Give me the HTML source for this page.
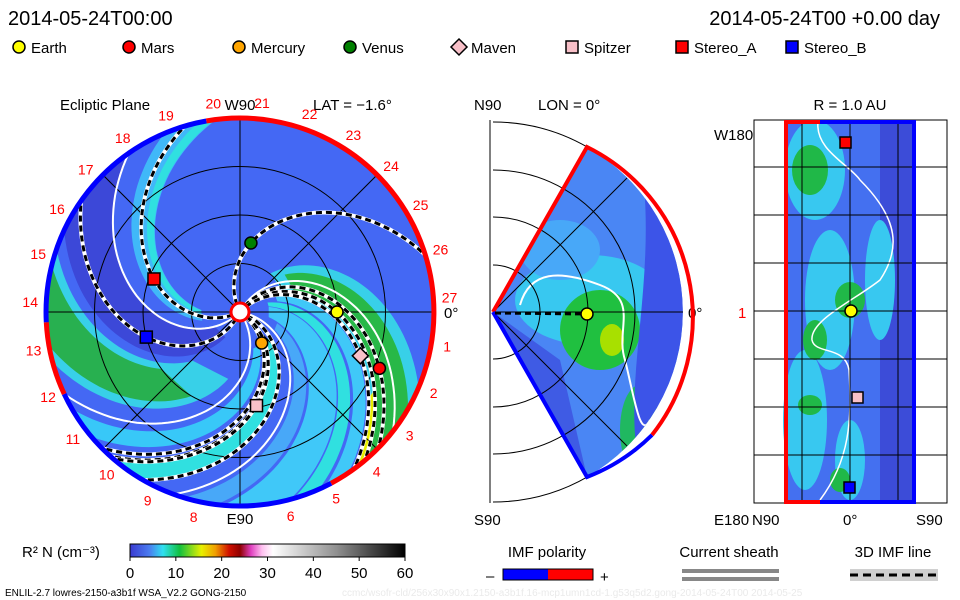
<!DOCTYPE html>
<html><head><meta charset="utf-8"><style>
html,body{margin:0;padding:0;background:#fff;}
svg{display:block;font-family:"Liberation Sans",sans-serif;}
</style></head><body>
<svg id="s" width="960" height="600" viewBox="0 0 960 600">
<defs>
<clipPath id="cc"><circle cx="240" cy="312" r="194"/></clipPath>
<clipPath id="wc"><path d="M493,312 L587,147 A190,190 0 0 1 587,477 Z"/></clipPath>
<linearGradient id="cb" x1="0" x2="1" y1="0" y2="0">
<stop offset="0" stop-color="#3a3ad0"/><stop offset="0.07" stop-color="#4a7cf0"/><stop offset="0.12" stop-color="#30e0f0"/>
<stop offset="0.18" stop-color="#10c040"/><stop offset="0.26" stop-color="#e8f000"/><stop offset="0.31" stop-color="#f0a000"/>
<stop offset="0.36" stop-color="#d01000"/><stop offset="0.4" stop-color="#900000"/><stop offset="0.44" stop-color="#e040c0"/>
<stop offset="0.48" stop-color="#ffc0f0"/><stop offset="0.52" stop-color="#ffffff"/><stop offset="0.75" stop-color="#909090"/>
<stop offset="1" stop-color="#000000"/></linearGradient>
</defs>
<text x="8" y="25" font-size="20">2014-05-24T00:00</text>
<text x="940" y="25" font-size="20" text-anchor="end">2014-05-24T00 +0.00 day</text>
<g id="legend"></g>

<g>
<text x="60" y="110" font-size="15">Ecliptic Plane</text>
<text x="240" y="110" font-size="15" text-anchor="middle">W90</text>
<text x="313" y="110" font-size="15">LAT = −1.6°</text>
<text x="240" y="524" font-size="15" text-anchor="middle">E90</text>
<text x="444" y="318" font-size="15">0°</text>
<circle cx="240" cy="312" r="194" fill="#4468f4"/>
<g id="bands" clip-path="url(#cc)"></g>
<g id="grid" clip-path="url(#cc)" stroke="#000" stroke-width="1" fill="none"></g>
<g id="flines" clip-path="url(#cc)"></g>
<path d="M206.3,121 A194,194 0 0 1 331.1,483.3" fill="none" stroke="#f00" stroke-width="5"/>
<path d="M331.1,483.3 A194,194 0 0 1 64.2,394" fill="none" stroke="#00f" stroke-width="5"/>
<path d="M64.2,394 A194,194 0 0 1 46.3,322.2" fill="none" stroke="#f00" stroke-width="5"/>
<path d="M46.3,322.2 A194,194 0 0 1 206.3,121" fill="none" stroke="#00f" stroke-width="5"/>
<circle cx="240" cy="312" r="9" fill="#fff" stroke="#f00" stroke-width="3"/>
<g id="lonlabels" fill="#f00" font-size="14"></g>
<g id="planets"></g>
</g>

<g>
<text x="474" y="110" font-size="15">N90</text>
<text x="538" y="110" font-size="15">LON = 0°</text>
<text x="474" y="525" font-size="15">S90</text>
<text x="688" y="318" font-size="15">0°</text>
<path d="M490,120 V503" stroke="#000"/>
<g id="merArcs" stroke="#000" fill="none"></g>
<path d="M493,312 L587,147 A190,190 0 0 1 587,477 Z" fill="#4a86f4"/>
<g clip-path="url(#wc)">
<ellipse cx="590" cy="300" rx="75" ry="45" fill="#38c8f0"/>
<ellipse cx="600" cy="330" rx="40" ry="40" fill="#20c040"/>
<ellipse cx="612" cy="340" rx="12" ry="16" fill="#a8e000"/>
<ellipse cx="640" cy="430" rx="20" ry="45" fill="#20b860"/>
<ellipse cx="560" cy="250" rx="40" ry="30" fill="#48a8f8"/>
<path d="M660,150 A190,190 0 0 1 683,320 L683,470 L640,470 C620,380 660,280 640,150Z" fill="#3c54e8"/>
<path d="M493,312 L560,360 L587,477 L520,400Z" fill="#3c50e0" opacity="0.8"/>
<path d="M520,305 C530,270 560,270 600,285 C640,300 615,330 625,360 C635,400 640,440 650,420" stroke="#fff" stroke-width="2" fill="none"/>
</g>
<g id="merGrid" stroke="#000" fill="none"></g>
<path d="M493,312 L587,147 A190,190 0 0 1 652,435" fill="none" stroke="#f00" stroke-width="4"/>
<path d="M652,435 A190,190 0 0 1 587,477 L493,312" fill="none" stroke="#00f" stroke-width="4"/>
<path d="M495,313 L587,314" stroke="#000" stroke-width="3" stroke-dasharray="6,4"/>
<circle cx="587" cy="314" r="6" fill="#ff0" stroke="#000" stroke-width="1.5"/>
</g>

<g>
<text x="850" y="110" font-size="15" text-anchor="middle">R = 1.0 AU</text>
<text x="714" y="140" font-size="15">W180</text>
<text x="714" y="525" font-size="15">E180</text>
<text x="752" y="525" font-size="15">N90</text>
<text x="843" y="525" font-size="15">0°</text>
<text x="916" y="525" font-size="15">S90</text>
<text x="738" y="318" font-size="15" fill="#f00">1</text>
<rect x="754" y="120" width="193" height="383" fill="#fff" stroke="#000"/>
<rect x="786" y="122" width="128" height="380" fill="#4470f0"/>
<rect x="880" y="122" width="34" height="380" fill="#3c4cd8"/>
<g fill="#38c8f0">
<ellipse cx="815" cy="170" rx="30" ry="50"/><ellipse cx="830" cy="300" rx="25" ry="70"/><ellipse cx="805" cy="420" rx="22" ry="70"/>
<ellipse cx="880" cy="280" rx="15" ry="60"/><ellipse cx="850" cy="460" rx="15" ry="40"/></g>
<g fill="#20b848">
<ellipse cx="810" cy="170" rx="18" ry="25"/><ellipse cx="815" cy="340" rx="12" ry="20"/><ellipse cx="850" cy="300" rx="15" ry="18"/>
<ellipse cx="810" cy="405" rx="12" ry="10"/><ellipse cx="840" cy="480" rx="10" ry="12"/></g>
<path d="M818,122 C815,150 850,165 860,180 C900,220 900,250 880,280 C855,300 810,320 812,340 C815,355 845,345 849,370 C852,420 850,460 820,500" stroke="#fff" stroke-width="1.5" fill="none"/>
<g stroke="#000" fill="none">
<path d="M754,167H947M754,215H947M754,263H947M754,311H947M754,359H947M754,407H947M754,455H947"/>
<path d="M802,120V503M850,120V503M898,120V503"/></g>
<path d="M786,120V502H820" fill="none" stroke="#f00" stroke-width="4"/>
<path d="M786,122H820" stroke="#f00" stroke-width="4"/>
<path d="M820,122H914V502H820" fill="none" stroke="#00f" stroke-width="4"/>
<rect x="840" y="137" width="11" height="11" fill="#f00" stroke="#000" stroke-width="1.5"/>
<circle cx="851" cy="311" r="6" fill="#ff0" stroke="#000" stroke-width="1.5"/>
<rect x="852" y="392" width="11" height="11" fill="#f8c0c8" stroke="#000" stroke-width="1.5"/>
<rect x="844" y="482" width="11" height="11" fill="#00f" stroke="#000" stroke-width="1.5"/>
</g>

<g>
<text x="22" y="557" font-size="15">R² N (cm⁻³)</text>
<rect x="130" y="544" width="275" height="13" fill="url(#cb)" stroke="#000"/>
<g id="cbticks" font-size="15" text-anchor="middle"></g>
</g>
<g>
<text x="547" y="557" font-size="15" text-anchor="middle">IMF polarity</text>
<text x="486" y="581" font-size="15">–</text>
<rect x="503" y="569" width="45" height="11" fill="#00f"/><rect x="548" y="569" width="45" height="11" fill="#f00"/>
<rect x="503" y="569" width="90" height="11" fill="none" stroke="#000"/>
<text x="600" y="582" font-size="15">+</text>
</g>
<g>
<text x="729" y="557" font-size="15" text-anchor="middle">Current sheath</text>
<rect x="682" y="569" width="97" height="4" fill="#888"/><rect x="682" y="577" width="97" height="4" fill="#888"/>
</g>
<g>
<text x="893" y="557" font-size="15" text-anchor="middle">3D IMF line</text>
<rect x="850" y="569" width="88" height="12" fill="#d0d0d0"/>
<path d="M850,575H938" stroke="#000" stroke-width="3" stroke-dasharray="8,5"/>
</g>
<text x="5" y="596" font-size="10">ENLIL-2.7 lowres-2150-a3b1f WSA_V2.2 GONG-2150</text>
<text x="342" y="596" font-size="10" fill="#eaeaea">ccmc/wsofr-cld/256x30x90x1.2150-a3b1f.16-mcp1umn1cd-1.g53q5d2.gong-2014-05-24T00   2014-05-25</text>
</svg>
<script>
const NS="http://www.w3.org/2000/svg";
const planetNames=["Earth","Mars","Mercury","Venus","Maven","Spitzer","Stereo_A","Stereo_B"];
const planetColors=["#ffff00","#ff0000","#ffa500","#008000","#f8c0c8","#f8c0c8","#ff0000","#0000ff"];
const planetShapes=["circle","circle","circle","circle","diamond","square","square","square"];
const planetR=[1.0,1.55,0.39,0.72,1.32,0.98,0.95,1.0];
const planetLon=[0,-22,-55,81,-20,-80,159,195];
const legendX=[12,122,232,343,452,565,675,785];
const spiralLon=[228,240,125,205,250,322];
const spiralStyle=["d","d","w","w","w","w"];
const bandLon=[140,178,178,215,235,258,275,290,105,100,322,320,308,300];
const bandWidth=[30,34,24,10,12,10,20,8,16,5,30,20,5,8];
const bandRmin=[0.3,0.7,1.0,0.4,0.4,0.4,0.3,0.3,0.4,0.4,0.5,0.6,1.6,0.4];
const bandColor=["#3c48d8","#38d0e8","#28b050","#38c8f8","#30e0e0","#48a8f8","#40c8f8","#30e0e0","#40b8f8","#30e0e0","#38d0e8","#28b848","#e8f000","#40c8f8"];
const cbTicks=[0,10,20,30,40,50,60];
const CX=240,CY=312,PX=97,K=50;
function xy(r,deg){const a=deg*Math.PI/180;return [CX+r*PX*Math.cos(a),CY-r*PX*Math.sin(a)];}
function el(t,a,p){const e=document.createElementNS(NS,t);for(const k in a)e.setAttribute(k,a[k]);p.appendChild(e);return e;}
const lg=document.getElementById('legend');
planetNames.forEach((n,i)=>{const x=legendX[i]+7,y=47;let m;
 if(planetShapes[i]==="circle")m=el('circle',{cx:x,cy:y,r:6,fill:planetColors[i],stroke:'#000','stroke-width':1.5},lg);
 else if(planetShapes[i]==="diamond")m=el('path',{d:`M${x},${y-8}L${x+8},${y}L${x},${y+8}L${x-8},${y}Z`,fill:planetColors[i],stroke:'#000','stroke-width':1.5},lg);
 else m=el('rect',{x:x-6,y:y-6,width:12,height:12,fill:planetColors[i],stroke:'#000','stroke-width':1.5},lg);
 
 
 const t=el('text',{x:x+12,y:y+6,'font-size':15},lg);t.textContent=n;
 
 
});
function spiralPts(c,r0,r1){const p=[];for(let r=r0;r<=r1+1e-6;r+=0.04)p.push(xy(r,c+K*(2-r)));return p;}
const bg=document.getElementById('bands');
bandLon.forEach((c,i)=>{const w=bandWidth[i];const a=spiralPts(c-w/2,bandRmin[i],2.1),b=spiralPts(c+w/2,bandRmin[i],2.1).reverse();
 const p=el('path',{d:'M'+a.concat(b).map(q=>q[0].toFixed(1)+','+q[1].toFixed(1)).join('L')+'Z',fill:bandColor[i]},bg);
 
 
});
const g=document.getElementById('grid');
[0.5,1,1.5].forEach(r=>el('circle',{cx:CX,cy:CY,r:r*PX},g));
[0,45,90,135].forEach(a=>{const p1=xy(2.1,a),p2=xy(2.1,a+180);el('line',{x1:p1[0],y1:p1[1],x2:p2[0],y2:p2[1]},g);});
const fl=document.getElementById('flines');
spiralLon.forEach((c,i)=>{const pts=spiralPts(c,0.08,2.1).map(q=>q[0].toFixed(1)+','+q[1].toFixed(1)).join('L');
 if(spiralStyle[i]==="d"){el('path',{d:'M'+pts,stroke:'#fff',fill:'none','stroke-width':4},fl);
  const p=el('path',{d:'M'+pts,stroke:'#000',fill:'none','stroke-width':3,'stroke-dasharray':'6,4'},fl);
  }
 else{const p=el('path',{d:'M'+pts,stroke:'#fff',fill:'none','stroke-width':2},fl);
  }
});
planetR.forEach((r,i)=>{const c=planetLon[i]-K*(2-r);const pts=spiralPts(c,0.08,2.1).map(q=>q[0].toFixed(1)+','+q[1].toFixed(1)).join('L');
 el('path',{d:'M'+pts,stroke:'#fff',fill:'none','stroke-width':4},fl);
 const p=el('path',{d:'M'+pts,stroke:'#000',fill:'none','stroke-width':3,'stroke-dasharray':'6,4'},fl);
 });
const ll=document.getElementById('lonlabels');
for(let n=1;n<=27;n++){if(n===7)continue;const a=4+(27-n)*13.33;const q=[CX+210*Math.cos(a*Math.PI/180),CY-210*Math.sin(a*Math.PI/180)];
 const t=el('text',{x:q[0].toFixed(1),y:(q[1]+5).toFixed(1),'text-anchor':'middle'},ll);t.textContent=n;
 }
const pg=document.getElementById('planets');
planetR.forEach((r,i)=>{const [x,y]=xy(r,planetLon[i]);let m;
 if(planetShapes[i]==="circle")m=el('circle',{cx:x,cy:y,r:6,fill:planetColors[i],stroke:'#000','stroke-width':1.5},pg);
 else if(planetShapes[i]==="diamond")m=el('path',{d:`M${x},${y-8}L${x+8},${y}L${x},${y+8}L${x-8},${y}Z`,fill:planetColors[i],stroke:'#000','stroke-width':1.5},pg);
 else m=el('rect',{x:x-6,y:y-6,width:12,height:12,fill:planetColors[i],stroke:'#000','stroke-width':1.5},pg);
 
 });
const ma=document.getElementById('merArcs'),mg=document.getElementById('merGrid');
[47,95,142,190].forEach(r=>{
 [[60,90],[-90,-60]].forEach(([a0,a1])=>{const p0=[493+r*Math.cos(a0*Math.PI/180),312-r*Math.sin(a0*Math.PI/180)],p1=[493+r*Math.cos(a1*Math.PI/180),312-r*Math.sin(a1*Math.PI/180)];
  el('path',{d:`M${p0[0]},${p0[1]}A${r},${r} 0 0 0 ${Math.max(490,p1[0])},${p1[1]}`},ma);});
 if(r<190){const p0=[493+r*Math.cos(Math.PI/3),312-r*Math.sin(Math.PI/3)],p1=[p0[0],312+r*Math.sin(Math.PI/3)];
  el('path',{d:`M${p0[0]},${p0[1]}A${r},${r} 0 0 1 ${p1[0]},${p1[1]}`},mg);}
});
el('path',{d:'M493,312H683M493,312L627,178M493,312L627,446'},mg);
const ct=document.getElementById('cbticks');
cbTicks.forEach(v=>{const x=130+v/60*275;el('line',{x1:x,y1:557,x2:x,y2:561,stroke:'#000'},ct);
 const t=el('text',{x:x,y:578},ct);t.textContent=v;
 });
</script>
</body></html>
